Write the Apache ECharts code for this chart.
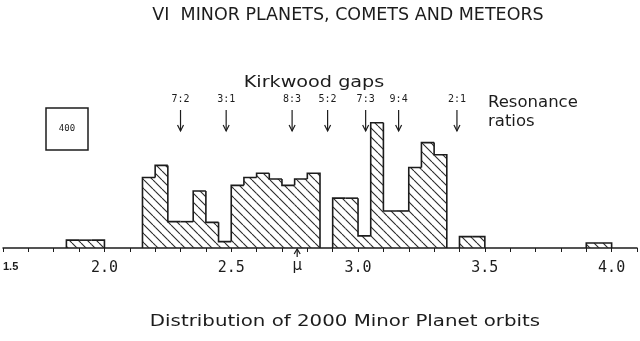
<!DOCTYPE html>
<html>
<head>
<meta charset="utf-8">
<script src="https://cdn.jsdelivr.net/npm/echarts@6/dist/echarts.min.js"></script>
<style>
  html, body { margin: 0; padding: 0; background: #fff; }
  #chart { width: 640px; height: 341px; }
</style>
</head>
<body>
<div id="chart"></div>
<script>
// Semi-major axis bins (AU, lower edge of each 0.05 AU bin)
const binWidth = 0.05;
const binStarts = [1.80, 1.85, 1.90, 1.95, 2.00, 2.05, 2.10, 2.15, 2.20, 2.25, 2.30,
                   2.35, 2.40, 2.45, 2.50, 2.55, 2.60, 2.65, 2.70, 2.75, 2.80, 2.85,
                   2.90, 2.95, 3.00, 3.05, 3.10, 3.15, 3.20, 3.25, 3.30, 3.35, 3.40,
                   3.45, 3.50, 3.55, 3.60, 3.65, 3.70, 3.75, 3.80, 3.85, 3.90, 3.95];
// Number of minor planets in each bin
const counts = [0, 11, 11, 11, 0, 0, 0, 99, 116, 37, 37,
                80, 36, 9, 88, 99, 105, 97, 88, 97, 105, 0,
                70, 70, 17, 176, 52, 52, 113, 148, 131, 0, 16,
                16, 0, 0, 0, 0, 0, 0, 0, 0, 7, 7];

// Kirkwood gaps: resonance ratio and where it is marked (AU)
const gapRatios = ['7:2', '3:1', '8:3', '5:2', '7:3', '9:4', '2:1'];
const gapPositions = [2.30, 2.48, 2.74, 2.88, 3.03, 3.16, 3.39];

// Mean semi-major axis
const meanAxis = 2.76;

// Axis tick labels
const tickValues = [1.6, 2.0, 2.5, 3.0, 3.5, 4.0];
const tickLabels = ['1.5', '2.0', '2.5', '3.0', '3.5', '4.0'];

const ink = '#1c1c1c';

// Diagonal hatching for the histogram bars
const tile = document.createElement('canvas');
tile.width = 9; tile.height = 9;
const g = tile.getContext('2d');
g.strokeStyle = '#2a2a2a';
g.lineWidth = 1.1;
g.beginPath();
for (const k of [-9, 0, 9]) { g.moveTo(k, 0); g.lineTo(k + 9, 9); }
g.stroke();
const hatch = { image: tile, repeat: 'repeat' };

function renderBin(params, api) {
  const i = params.dataIndex;
  const x0 = api.value(0);
  const c = api.value(1);
  if (!c) return null;
  const prev = i > 0 ? counts[i - 1] : 0;
  const next = i < counts.length - 1 ? counts[i + 1] : 0;
  const base = api.coord([x0, 0]);
  const top = api.coord([x0 + binWidth, c]);
  const yPrev = api.coord([x0, prev])[1];
  const pts = [[base[0], yPrev], [base[0], top[1]], [top[0], top[1]]];
  if (!next) pts.push([top[0], base[1]]);
  return {
    type: 'group',
    children: [
      { type: 'rect',
        shape: { x: base[0], y: top[1], width: top[0] - base[0], height: base[1] - top[1] },
        style: { fill: hatch } },
      { type: 'polyline', shape: { points: pts },
        style: { stroke: ink, lineWidth: 1.6, fill: null } }
    ]
  };
}

function renderGap(params, api) {
  const x = api.coord([api.value(0), 0])[0];
  const top = params.coordSys.y;
  const label = gapRatios[api.value(1)];
  const yLabel = top + 29;
  const yStart = top + 40;
  const yTip = top + 61;
  return {
    type: 'group',
    children: [
      { type: 'text',
        style: { text: label, x: x, y: yLabel, align: 'center', verticalAlign: 'middle',
                 fontFamily: 'DejaVu Sans Mono', fontSize: 10, fill: ink } },
      { type: 'line', shape: { x1: x, y1: yStart, x2: x, y2: yTip },
        style: { stroke: ink, lineWidth: 1.2 } },
      { type: 'polyline', shape: { points: [[x - 3, yTip - 6], [x, yTip], [x + 3, yTip - 6]] },
        style: { stroke: ink, lineWidth: 1.2, fill: null } }
    ]
  };
}

function renderMean(params, api) {
  const p = api.coord([api.value(0), 0]);
  return {
    type: 'group',
    children: [
      { type: 'line', shape: { x1: p[0], y1: p[1] + 9, x2: p[0], y2: p[1] + 1 },
        style: { stroke: ink, lineWidth: 1.2 } },
      { type: 'polyline', shape: { points: [[p[0] - 3, p[1] + 6], [p[0], p[1] + 1], [p[0] + 3, p[1] + 6]] },
        style: { stroke: ink, lineWidth: 1.2, fill: null } },
      { type: 'text',
        style: { text: 'μ', x: p[0], y: p[1] + 11, align: 'center', verticalAlign: 'top',
                 fontFamily: 'DejaVu Sans', fontSize: 15, fill: ink } }
    ]
  };
}

const chart = echarts.init(document.getElementById('chart'), null, { renderer: 'canvas' });

chart.setOption({
  backgroundColor: '#ffffff',
  animation: false,
  grid: { left: 1, right: -1, top: 70, bottom: 93 },
  xAxis: {
    type: 'value',
    min: 1.6,
    max: 4.1,
    interval: 0.1,
    splitLine: { show: false },
    axisLine: { lineStyle: { color: ink, width: 1.5 } },
    axisTick: { length: 4, lineStyle: { color: ink, width: 1 } },
    axisLabel: {
      interval: 0,
      margin: 13,
      color: ink,
      fontFamily: 'DejaVu Sans Mono',
      fontSize: 15,
      alignMinLabel: 'left',
      showMinLabel: true,
      formatter: function (v) {
        const k = tickValues.findIndex(t => Math.abs(t - v) < 1e-6);
        if (k < 0) return '';
        return k === 0 ? '{small|' + tickLabels[k] + '}' : tickLabels[k];
      },
      rich: {
        small: { fontFamily: 'Liberation Sans', fontWeight: 'bold', fontSize: 11, color: ink }
      }
    }
  },
  yAxis: { type: 'value', min: 0, max: 250, show: false },
  series: [
    {
      type: 'custom',
      name: 'Minor planets',
      renderItem: renderBin,
      data: binStarts.map((s, i) => [s, counts[i]]),
      z: 2
    },
    {
      type: 'custom',
      name: 'Kirkwood gaps',
      renderItem: renderGap,
      data: gapPositions.map((x, i) => [x, i]),
      z: 3
    },
    {
      type: 'custom',
      name: 'Mean',
      renderItem: renderMean,
      data: [[meanAxis]],
      z: 3
    }
  ],
  graphic: {
    elements: [
      { type: 'text', x: 348, y: 15,
        style: { text: 'VI  MINOR PLANETS, COMETS AND METEORS', align: 'center', verticalAlign: 'middle',
                 fontFamily: 'DejaVu Sans', fontSize: 17.5, fill: ink } },
      { type: 'text', x: 314, y: 83, scaleX: 1.2, originX: 0, originY: 0,
        style: { text: 'Kirkwood gaps', align: 'center', verticalAlign: 'middle',
                 fontFamily: 'DejaVu Sans', fontSize: 16, fill: ink } },
      { type: 'text', x: 488, y: 103,
        style: { text: 'Resonance', align: 'left', verticalAlign: 'middle',
                 fontFamily: 'DejaVu Sans', fontSize: 16.5, fill: ink } },
      { type: 'text', x: 488, y: 122,
        style: { text: 'ratios', align: 'left', verticalAlign: 'middle',
                 fontFamily: 'DejaVu Sans', fontSize: 16.5, fill: ink } },
      { type: 'rect', shape: { x: 46, y: 108, width: 42, height: 42 },
        style: { fill: null, stroke: ink, lineWidth: 1.5 } },
      { type: 'text', x: 67, y: 129,
        style: { text: '400', align: 'center', verticalAlign: 'middle',
                 fontFamily: 'DejaVu Sans Mono', fontSize: 9, fill: ink } },
      { type: 'text', x: 345, y: 322, scaleX: 1.32, originX: 0, originY: 0,
        style: { text: 'Distribution of 2000 Minor Planet orbits', align: 'center', verticalAlign: 'middle',
                 fontFamily: 'DejaVu Sans', fontSize: 15, fill: ink } }
    ]
  }
});
</script>
</body>
</html>
